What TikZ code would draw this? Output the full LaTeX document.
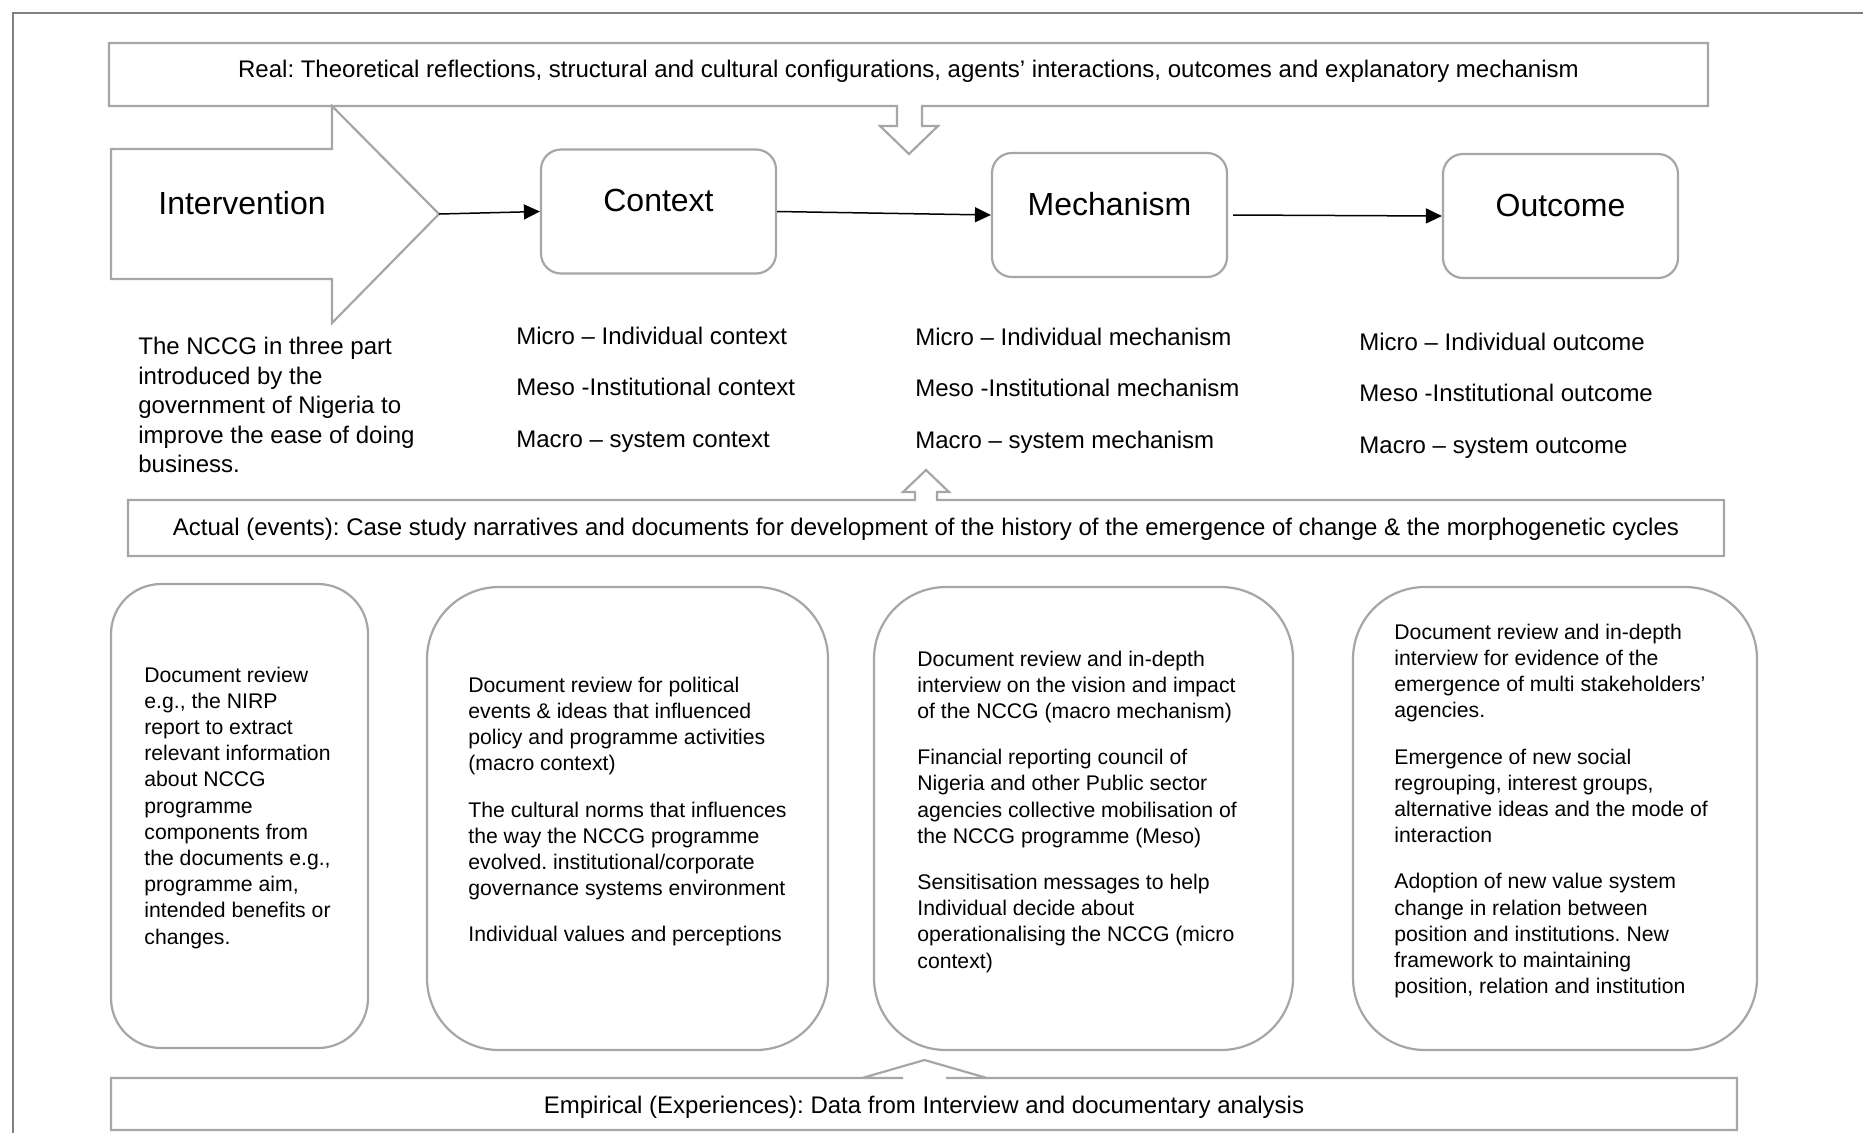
\documentclass[tikz,border=0pt]{standalone}
\usepackage{fontspec}
\setmainfont{Liberation Sans}
\usetikzlibrary{arrows.meta,positioning}
\definecolor{shapegray}{HTML}{A6A6A6}
\definecolor{framegray}{HTML}{808080}
\frenchspacing
\tikzset{
  frameline/.style={draw=framegray, line width=1pt},
  shapeline/.style={draw=shapegray, line width=1.1pt, line join=miter},
  levelbox/.style={rounded corners=10pt, draw=shapegray, line width=1.1pt, minimum width=117.5pt, minimum height=62pt, font=\fontsize{16}{19}\selectfont, text depth=11pt},
  evbox/.style={draw=shapegray, line width=1.1pt, inner sep=0pt},
  evtext/.style={align=left, inner sep=0pt, anchor=west, font=\fontsize{10.6}{13.1}\selectfont},
  leveltext/.style={align=left, inner sep=0pt, anchor=west, font=\fontsize{12}{25.75}\selectfont},
  bandtext/.style={inner sep=0pt, font=\fontsize{12}{14.4}\selectfont},
  flow/.style={-{Triangle[length=8pt,width=7.5pt]}, line width=0.75pt, black}
}
\begin{document}
\begin{tikzpicture}[x=0.5pt, y=-0.5pt]
  \clip (0,0) rectangle (1863,1132);
  % outer frame
  \draw[frameline] (13,1140) -- (13,13) -- (1870,13);

  % real domain band with callout down
  \draw[shapeline] (109,43) -- (1708,43) -- (1708,106) -- (922,106) -- (922,126) -- (938,126) -- (909,154)
    -- (880,126) -- (897,126) -- (897,106) -- (109,106) -- cycle;
  \node[bandtext] (real) at (908.5,71.5) {Real: Theoretical reflections, structural and cultural configurations, agents’ interactions, outcomes and explanatory mechanism};

  % intervention arrow
  \draw[shapeline] (111,149) -- (332,149) -- (332,106) -- (439,214) -- (332,323) -- (332,279) -- (111,279) -- cycle;
  \coordinate (ivtip) at (439,214);
  \node[font=\fontsize{16}{19}\selectfont] (interv) at (242,203) {Intervention};

  \node[levelbox] (ctx) at (658.5,211.5) {Context};
  \node[levelbox] (mech) at (1109.5,215) {Mechanism};
  \node[levelbox] (out) at (1560.5,216) {Outcome};
  \draw[flow] (ivtip) -- (ctx.west);
  \draw[flow] (ctx.east) -- (mech.west);
  \draw[flow] ([xshift=2.5pt]mech.east) -- (out.west);

  \node[leveltext, font=\fontsize{12}{14.75}\selectfont] (ivtext) at (138,405) {The NCCG in three part\\introduced by the\\government of Nigeria to\\improve the ease of doing\\business.};
  \node[leveltext] (ctxlev) at (516,389.5) {Micro – Individual context\\Meso -Institutional context\\Macro – system context};
  \node[leveltext] (mechlev) at (915,390.5) {Micro – Individual mechanism\\Meso -Institutional mechanism\\Macro – system mechanism};
  \node[leveltext] (outlev) at (1359,395.5) {Micro – Individual outcome\\Meso -Institutional outcome\\Macro – system outcome};

  % actual domain band with callout up
  \draw[shapeline] (128,500) -- (915,500) -- (915,492) -- (903,492) -- (926,470) -- (949,492) -- (937,492)
    -- (937,500) -- (1724,500) -- (1724,556) -- (128,556) -- cycle;
  \node[bandtext] (actual) at (926,529) {Actual (events): Case study narratives and documents for development of the history of the emergence of change \& the morphogenetic cycles};

  % evidence boxes
  \node[evbox, rounded corners=25pt, minimum width=128.5pt, minimum height=232pt] (ev1) at (239.5,816) {};
  \node[evbox, rounded corners=36pt, minimum width=200.5pt, minimum height=231.5pt] (ev2) at (627.5,818.5) {};
  \node[evbox, rounded corners=36pt, minimum width=209.5pt, minimum height=231.5pt] (ev3) at (1083.5,818.5) {};
  \node[evbox, rounded corners=36pt, minimum width=202pt, minimum height=231.5pt] (ev4) at (1555,818.5) {};

  \node[evtext] (ev1txt) at (144,807.5) {Document review\\e.g., the NIRP\\report to extract\\relevant information\\about NCCG\\programme\\components from\\the documents e.g.,\\programme aim,\\intended benefits or\\changes.};
  \node[evtext] (ev2txt) at (468,811.5) {Document review for political\\events \& ideas that influenced\\policy and programme activities\\(macro context)\\[10pt]The cultural norms that influences\\the way the NCCG programme\\evolved. institutional/corporate\\governance systems environment\\[10pt]Individual values and perceptions};
  \node[evtext] (ev3txt) at (917,811.5) {Document review and in-depth\\interview on the vision and impact\\of the NCCG (macro mechanism)\\[10pt]Financial reporting council of\\Nigeria and other Public sector\\agencies collective mobilisation of\\the NCCG programme (Meso)\\[10pt]Sensitisation messages to help\\Individual decide about\\operationalising the NCCG (micro\\context)};
  \node[evtext] (ev4txt) at (1394,811) {Document review and in-depth\\interview for evidence of the\\emergence of multi stakeholders’\\agencies.\\[10pt]Emergence of new social\\regrouping, interest groups,\\alternative ideas and the mode of\\interaction\\[10pt]Adoption of new value system\\change in relation between\\position and institutions. New\\framework to maintaining\\position, relation and institution};

  % empirical domain band with callout up
  \draw[shapeline] (111,1130) -- (111,1078) -- (903,1078) -- (862,1078) -- (924.5,1060) -- (987,1078) -- (946,1078)
    -- (1737,1078) -- (1737,1130) -- cycle;
  \node[bandtext] (empirical) at (924,1107.5) {Empirical (Experiences): Data from Interview and documentary analysis};
\end{tikzpicture}
\end{document}
